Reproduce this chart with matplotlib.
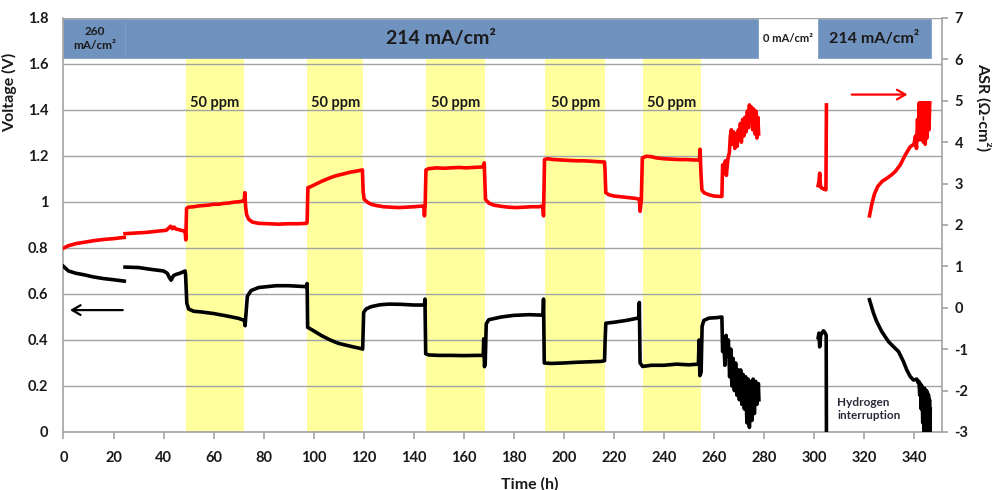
import numpy as np
import matplotlib
matplotlib.use("Agg")
import matplotlib.pyplot as plt
from matplotlib.ticker import MultipleLocator, FuncFormatter

plt.rcParams["font.family"] = ["Lato", "DejaVu Sans"]
plt.rcParams["axes.unicode_minus"] = False

# ---------------- cell voltage (V), left axis ----------------
volt_a_t = [0, 2, 5, 8, 12, 16, 20, 24.3]
volt_a_v = [0.72, 0.70, 0.69, 0.684, 0.674, 0.667, 0.662, 0.656]

volt_b_t = [24.6, 30, 35, 40, 41.5, 42.3, 43, 44, 45, 46.5, 48.6, 48.8,
            49.3, 50, 52, 55, 60, 65, 70, 72.3, 72.6, 73.0, 73.5, 75, 78, 85, 90, 95, 97.2, 97.4,
            97.6, 100, 103, 106.6, 110, 115, 119.2, 119.6,
            120.0, 121, 123, 126.5, 130, 135, 140, 144.3, 144.5,
            144.8, 146, 150, 155, 160, 165, 167.8, 168.0, 168.3, 168.6,
            169.0, 170, 175, 180, 186, 191.7, 191.9,
            192.2, 195, 200, 205, 210, 215, 216.3, 216.5,
            216.8, 220, 225, 230, 230.2,
            230.5, 231.5, 235, 240, 245, 250, 253.8, 254.1, 254.4, 254.9,
            255.3, 256, 258, 261, 263.2,
            263.5, 264.0, 264.4, 264.9, 265.3, 265.8, 266.3, 266.8, 267.2, 267.7,
            268.2, 268.7, 269.2, 269.7, 270.2, 270.7, 271.2, 271.7, 272.2, 272.7,
            273.2, 273.7, 274.2, 274.7, 275.2, 275.7, 276.2, 276.7, 277.2, 277.8, 278.0]
volt_b_v = [0.717, 0.715, 0.707, 0.70, 0.69, 0.672, 0.66, 0.68, 0.685, 0.69, 0.70, 0.685,
            0.56, 0.535, 0.525, 0.522, 0.515, 0.505, 0.494, 0.485, 0.462, 0.52, 0.59, 0.615, 0.628, 0.636, 0.636, 0.633, 0.632, 0.645,
            0.455, 0.44, 0.42, 0.40, 0.385, 0.372, 0.362, 0.36,
            0.52, 0.535, 0.545, 0.553, 0.556, 0.555, 0.552, 0.552, 0.578,
            0.34, 0.335, 0.333, 0.333, 0.332, 0.333, 0.333, 0.405, 0.284, 0.30,
            0.47, 0.488, 0.50, 0.507, 0.51, 0.508, 0.578,
            0.30, 0.298, 0.30, 0.303, 0.305, 0.307, 0.31, 0.39,
            0.473, 0.477, 0.485, 0.496, 0.563,
            0.30, 0.285, 0.29, 0.29, 0.295, 0.292, 0.295, 0.40, 0.245, 0.26,
            0.46, 0.485, 0.495, 0.497, 0.50,
            0.35, 0.40, 0.29, 0.42, 0.33, 0.40, 0.24, 0.36, 0.20, 0.32,
            0.18, 0.30, 0.16, 0.27, 0.14, 0.27, 0.12, 0.25, 0.10, 0.24,
            0.04, 0.23, 0.02, 0.22, 0.05, 0.23, 0.08, 0.22, 0.12, 0.21, 0.14]

volt_c_t = [301.7, 302.0, 302.3, 302.7, 303.2, 303.8, 304.5, 304.9, 305.0]
volt_c_v = [0.41, 0.43, 0.37, 0.42, 0.43, 0.44, 0.43, 0.42, 0.0]

volt_d_t = [322.2, 323.8, 325.1, 327.1, 329.8, 331.8, 333.8, 335.8, 337.1, 338.5, 339.8,
            341.1, 341.6, 342.0, 342.3, 342.6, 342.9, 343.2, 343.5, 343.8, 344.0,
            344.2, 344.4, 344.6, 344.8, 345.0, 345.2, 345.4, 345.6, 345.8, 346.0,
            346.2, 346.4, 346.5]
volt_d_v = [0.575, 0.517, 0.480, 0.437, 0.393, 0.371, 0.350, 0.306, 0.270, 0.241, 0.226,
            0.23, 0.215, 0.22, 0.16, 0.21, 0.10, 0.20, 0.04, 0.19, 0.0,
            0.19, 0.0, 0.18, 0.0, 0.18, 0.0, 0.17, 0.0, 0.16, 0.0,
            0.14, 0.0, 0.10]

# ---------------- area specific resistance, right axis ----------------
asr_a_t = [0, 2, 5, 8, 12, 16, 20, 24.3]
asr_a_v = [1.44, 1.50, 1.55, 1.58, 1.62, 1.65, 1.67, 1.70]

asr_b_t = [24.6, 27, 30, 33, 36, 39, 41, 42, 42.8, 43.5, 44.2, 45, 46, 47, 48.2, 48.7, 48.9,
           49.2, 50, 52, 54, 56, 58, 60, 62, 64, 66, 68, 70, 72.0, 72.3, 72.5, 72.8, 73.2,
           74, 75.5, 78, 82, 86, 90, 94, 97.2, 97.4,
           97.7, 99, 101, 103, 105, 107, 109, 111, 113, 115, 117, 119.5, 119.8,
           120.2, 121.5, 123, 125, 128, 131, 134, 137, 140, 142, 144.0, 144.3, 144.6,
           144.9, 146, 149, 152, 155, 158, 161, 164, 167, 168.0, 168.2, 168.4, 168.7,
           170, 172, 175, 178, 181, 184, 187, 190, 191.6, 191.9,
           192.3, 193.5, 196, 199, 202, 205, 208, 211, 214, 216.3, 216.5, 216.8,
           218, 220, 223, 226, 229, 230.2, 230.5, 231.0,
           231.4, 233, 235, 237, 240, 243, 246, 249, 252, 254.2, 254.5, 254.8, 255.2,
           256, 258, 260, 262, 263.0,
           263.2, 263.5, 264.0, 264.6, 265.0, 265.6, 266.2, 266.6, 267.0, 267.4,
           267.9, 268.4, 268.9, 269.3, 269.8, 270.2, 270.6, 271.0, 271.5, 272.0,
           272.4, 272.9, 273.4, 273.8, 274.2, 274.6, 275.0, 275.5, 275.9, 276.4,
           276.8, 277.2, 277.6, 277.9]
asr_b_v = [1.79, 1.80, 1.81, 1.82, 1.84, 1.86, 1.87, 1.92, 1.97, 1.91, 1.95, 1.90, 1.89, 1.87, 1.86, 1.80, 1.64,
           2.40, 2.43, 2.44, 2.46, 2.47, 2.48, 2.50, 2.50, 2.52, 2.53, 2.55, 2.56, 2.58, 2.62, 2.78, 2.45, 2.25,
           2.14, 2.07, 2.04, 2.03, 2.02, 2.03, 2.03, 2.04, 2.08,
           2.90, 2.93, 2.99, 3.05, 3.10, 3.15, 3.19, 3.22, 3.25, 3.28, 3.30, 3.33, 2.80,
           2.62, 2.55, 2.50, 2.47, 2.44, 2.43, 2.42, 2.43, 2.44, 2.45, 2.46, 2.22, 2.50,
           3.33, 3.36, 3.38, 3.37, 3.38, 3.39, 3.38, 3.39, 3.40, 3.42, 3.50, 3.15, 2.62,
           2.53, 2.48, 2.45, 2.43, 2.42, 2.43, 2.44, 2.44, 2.46, 2.22,
           3.58, 3.60, 3.58, 3.57, 3.56, 3.55, 3.55, 3.54, 3.53, 3.52, 3.30, 2.78,
           2.73, 2.70, 2.68, 2.66, 2.64, 2.62, 2.33, 2.60,
           3.62, 3.66, 3.65, 3.62, 3.60, 3.59, 3.58, 3.58, 3.57, 3.57, 3.83, 3.30, 2.85,
           2.78, 2.73, 2.70, 2.69, 2.69,
           2.69, 3.45, 3.25, 3.55, 3.20, 3.60, 3.75, 4.15, 4.30, 3.95,
           4.25, 3.85, 4.20, 3.90, 4.30, 4.05, 4.45, 4.00, 4.55, 4.15,
           4.60, 4.25, 4.75, 4.35, 4.90, 4.55, 4.85, 4.30, 4.80, 4.20,
           4.75, 4.10, 4.60, 4.20]

asr_c_t = [301.7, 302.0, 302.3, 302.6, 303.0, 303.5, 304.2, 304.8, 305.0]
asr_c_v = [2.95, 3.05, 3.25, 2.95, 2.90, 2.88, 2.86, 2.85, 4.90]

asr_d_t = [322.2, 323.2, 324.2, 325.5, 327.2, 329.2, 331.0, 332.5, 334.5, 336.5, 338.5, 340.0, 340.6,
           341.0, 341.4, 341.8, 342.1, 342.5, 342.8, 343.1, 343.5, 343.8, 344.2,
           344.5, 344.9, 345.2, 345.6, 346.0, 346.3]
asr_d_v = [2.22, 2.52, 2.75, 2.93, 3.05, 3.13, 3.21, 3.29, 3.45, 3.69, 3.89, 3.95, 4.15,
           3.85, 4.55, 4.05, 4.95, 4.15, 4.95, 4.05, 4.95, 4.00, 4.95,
           3.95, 4.95, 4.10, 4.95, 4.30, 4.95]

# ---------------- test conditions ----------------
ppm_start = [48.9, 97.5, 144.9, 192.5, 231.6]
ppm_end = [72.3, 119.9, 168.7, 216.6, 254.9]
ppm_label = "50 ppm"

current_start = [0, 24.6, 301.5]
current_end = [24.6, 277.6, 346.8]
current_label = ["260\nmA/cm²", "214 mA/cm²", "214 mA/cm²"]
current_size = [8.5, 14, 11.5]
off_label = "0 mA/cm²"
off_pos = (277.6 + 301.5) / 2

x_ticks = list(range(0, 341, 20))
v_ticks = [0, 0.2, 0.4, 0.6, 0.8, 1.0, 1.2, 1.4, 1.6, 1.8]
asr_ticks = list(range(-3, 8))

GRID = "#a3a3a3"
BLUE = "#7092be"
YELLOW = "#ffff9e"
TXT = "#1a1a1a"
LW = 2.6

fig = plt.figure(figsize=(9.92, 4.90), dpi=100)
ax = fig.add_axes([0.064, 0.1184, 0.8856, 0.8449])
ax2 = ax.twinx()

ax.set_xlim(0, 351.2)
ax.set_ylim(0, 1.8)
ax2.set_ylim(-3, 7)

# hydrogen-poisoning intervals
for s, e in zip(ppm_start, ppm_end):
    ax.axvspan(s, e, ymin=0, ymax=1.624 / 1.8, color=YELLOW, lw=0, zorder=0.2)
    ax.text((s + e) / 2, 1.43, ppm_label, ha="center", va="center",
            fontsize=10.5, fontweight="bold", color=TXT, zorder=4)

# current density banner
for s, e, lab, fs in zip(current_start, current_end, current_label, current_size):
    ax.axvspan(s, e, ymin=1.626 / 1.8, ymax=1.797 / 1.8, facecolor=BLUE,
               edgecolor="#7f9dc6", lw=0.6, zorder=0.3)
    ax.text((s + e) / 2, 1.711, lab, ha="center", va="center", fontsize=fs,
            fontweight="bold", color=TXT, linespacing=1.25, zorder=4)
ax.text(off_pos, 1.711, off_label, ha="center", va="center", fontsize=8,
        fontweight="bold", color=TXT, zorder=4)

# data
for t, v in [(volt_a_t, volt_a_v), (volt_b_t, volt_b_v),
             (volt_c_t, volt_c_v), (volt_d_t, volt_d_v)]:
    ax.plot(t, v, color="black", lw=LW, solid_joinstyle="round", zorder=3)
for t, v in [(asr_a_t, asr_a_v), (asr_b_t, asr_b_v),
             (asr_c_t, asr_c_v), (asr_d_t, asr_d_v)]:
    ax2.plot(t, v, color="#ff0000", lw=LW, solid_joinstyle="round", zorder=3)

# axis-reading arrows
ax.annotate("", xy=(1.5, 0.53), xytext=(24.8, 0.53),
            arrowprops=dict(arrowstyle="->,head_length=0.6,head_width=0.35",
                            color="black", lw=1.6))
ax2.annotate("", xy=(338.5, 5.15), xytext=(314, 5.15),
             arrowprops=dict(arrowstyle="->,head_length=0.6,head_width=0.35",
                             color="#ff0000", lw=1.6))

ax.text(309.3, 0.10, "Hydrogen\ninterruption", ha="left", va="center",
        fontsize=8.5, fontweight="bold", color="#2a2a3a", linespacing=1.3)

# grid / spines
ax.set_axisbelow(True)
ax.yaxis.set_major_locator(MultipleLocator(0.2))
ax.grid(axis="y", color=GRID, lw=1.0)
ax.set_xticks(x_ticks)
ax.set_yticks(v_ticks)
ax2.set_yticks(asr_ticks)
ax.yaxis.set_major_formatter(FuncFormatter(lambda y, p: f"{y:g}"))

for a in (ax, ax2):
    a.spines["top"].set_visible(False)
    for side in ("left", "right", "bottom"):
        a.spines[side].set_color(GRID)
        a.spines[side].set_linewidth(1.2)
ax.spines["right"].set_visible(False)
ax2.spines["left"].set_visible(False)
ax2.spines["bottom"].set_visible(False)

ax.tick_params(axis="x", direction="out", length=5, width=1.2, color=GRID,
               pad=9, labelsize=10.5, labelcolor=TXT)
ax.tick_params(axis="y", length=0, pad=11, labelsize=10.5, labelcolor=TXT)
ax2.tick_params(axis="y", direction="out", length=4, width=1.2, color=GRID,
                pad=5, labelsize=10.5, labelcolor=TXT)
for lab in ax.get_xticklabels() + ax.get_yticklabels() + ax2.get_yticklabels():
    lab.set_fontweight("bold")

ax.set_xlabel("Time (h)", fontsize=11.5, fontweight="bold", color=TXT)
ax.xaxis.set_label_coords(0.531, -0.108)
ax.set_ylabel("Voltage (V)", fontsize=11.5, fontweight="bold", color=TXT)
ax.yaxis.set_label_coords(-0.053, 0.82)
ax2.set_ylabel("ASR (Ω-cm²)", fontsize=11.5, fontweight="bold", color=TXT,
               rotation=270, va="center")
ax2.yaxis.set_label_coords(1.047, 0.785)

fig.savefig("out.png", dpi=100)
